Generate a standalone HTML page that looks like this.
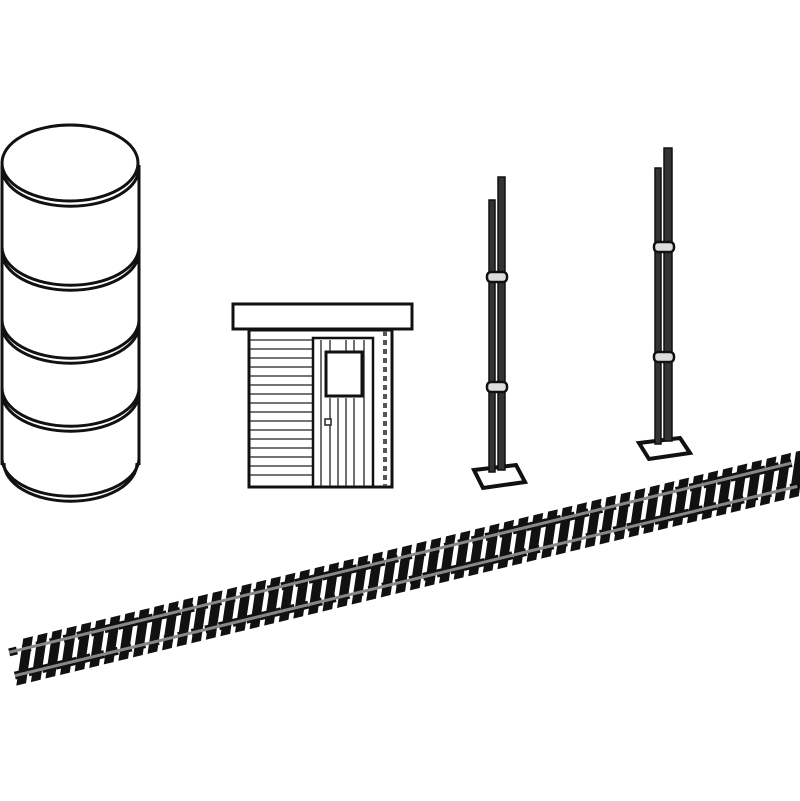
<!DOCTYPE html>
<html><head><style>html,body{margin:0;padding:0;background:#fff;width:800px;height:801px;overflow:hidden}</style></head>
<body>
<svg width="800" height="801" viewBox="0 0 800 801" xmlns="http://www.w3.org/2000/svg">
<g fill="none" stroke="#111" stroke-width="3">
  <line x1="2" y1="165" x2="2" y2="465"/>
  <line x1="139" y1="165" x2="139" y2="465"/>
  <ellipse cx="70" cy="163" rx="68" ry="38" fill="#fff"/>
  <path d="M2 168 A68 38 0 0 0 139 168"/>
  <path d="M2 247 A68 38 0 0 0 139 247"/><path d="M2 252 A68 38 0 0 0 139 252"/>
  <path d="M2 320 A68 38 0 0 0 139 320"/><path d="M2 325 A68 38 0 0 0 139 325"/>
  <path d="M2 388 A68 38 0 0 0 139 388"/><path d="M2 393 A68 38 0 0 0 139 393"/>
  <path d="M2 458 A68 38 0 0 0 139 458"/><path d="M4 463 A66 38 0 0 0 137 463"/>
  <rect x="233" y="304" width="179" height="25" fill="#fff"/>
  <rect x="249" y="330" width="143" height="157"/>
  <rect x="313" y="338" width="60" height="149" stroke-width="2.5"/>
  <rect x="326" y="352" width="36" height="44" stroke-width="3"/>
</g>
<g stroke="#222" stroke-width="1.3">
  <line x1="250" y1="340" x2="312" y2="340"/><line x1="250" y1="349" x2="312" y2="349"/>
  <line x1="250" y1="358" x2="312" y2="358"/><line x1="250" y1="367" x2="312" y2="367"/>
  <line x1="250" y1="376" x2="312" y2="376"/><line x1="250" y1="385" x2="312" y2="385"/>
  <line x1="250" y1="394" x2="312" y2="394"/><line x1="250" y1="403" x2="312" y2="403"/>
  <line x1="250" y1="412" x2="312" y2="412"/><line x1="250" y1="421" x2="312" y2="421"/>
  <line x1="250" y1="430" x2="312" y2="430"/><line x1="250" y1="439" x2="312" y2="439"/>
  <line x1="250" y1="448" x2="312" y2="448"/><line x1="250" y1="457" x2="312" y2="457"/>
  <line x1="250" y1="466" x2="312" y2="466"/><line x1="250" y1="475" x2="312" y2="475"/>
  <line x1="385" y1="331" x2="385" y2="486" stroke-dasharray="5 4" stroke-width="4" stroke="#555"/>
  <line x1="321" y1="340" x2="321" y2="486"/><line x1="330" y1="398" x2="330" y2="486"/>
  <line x1="338" y1="398" x2="338" y2="486"/><line x1="346" y1="398" x2="346" y2="486"/>
  <line x1="354" y1="398" x2="354" y2="486"/><line x1="364" y1="340" x2="364" y2="486"/>
  <line x1="330" y1="340" x2="330" y2="351"/><line x1="346" y1="340" x2="346" y2="351"/><line x1="354" y1="340" x2="354" y2="351"/>
</g>
<rect x="325" y="419" width="6" height="6" fill="#fff" stroke="#222" stroke-width="1.5"/>
<g fill="#333" stroke="#111" stroke-width="1.5">
  <polygon points="474,470 516,465 525,482 483,488" fill="#fff" stroke-width="4"/>
  <rect x="489" y="200" width="6" height="272"/>
  <rect x="498" y="177" width="7" height="293"/>
  <rect x="487" y="272" width="20" height="10" rx="4" fill="#ddd" stroke-width="2.5"/>
  <rect x="487" y="382" width="20" height="10" rx="4" fill="#ddd" stroke-width="2.5"/>
  <polygon points="639,443 680,438 690,453 649,459" fill="#fff" stroke-width="4"/>
  <rect x="655" y="168" width="6" height="276"/>
  <rect x="664" y="148" width="8" height="293"/>
  <rect x="654" y="242" width="20" height="10" rx="4" fill="#ddd" stroke-width="2.5"/>
  <rect x="654" y="352" width="20" height="10" rx="4" fill="#ddd" stroke-width="2.5"/>
</g>
<g transform="translate(12,664) rotate(-13.6)">
  <g transform="skewX(-22)">
    <line x1="8" y1="0" x2="815" y2="0" stroke="#111" stroke-width="44" stroke-dasharray="10 5"/>
  </g>
  <line x1="0" y1="-12" x2="805" y2="-12" stroke="#111" stroke-width="8" stroke-dasharray="8 6"/>
  <line x1="0" y1="12" x2="805" y2="12" stroke="#111" stroke-width="8" stroke-dasharray="8 6"/>
  <line x1="0" y1="-12" x2="805" y2="-12" stroke="#888" stroke-width="3"/>
  <line x1="0" y1="12" x2="805" y2="12" stroke="#888" stroke-width="3"/>
</g>
</svg>
</body></html>
